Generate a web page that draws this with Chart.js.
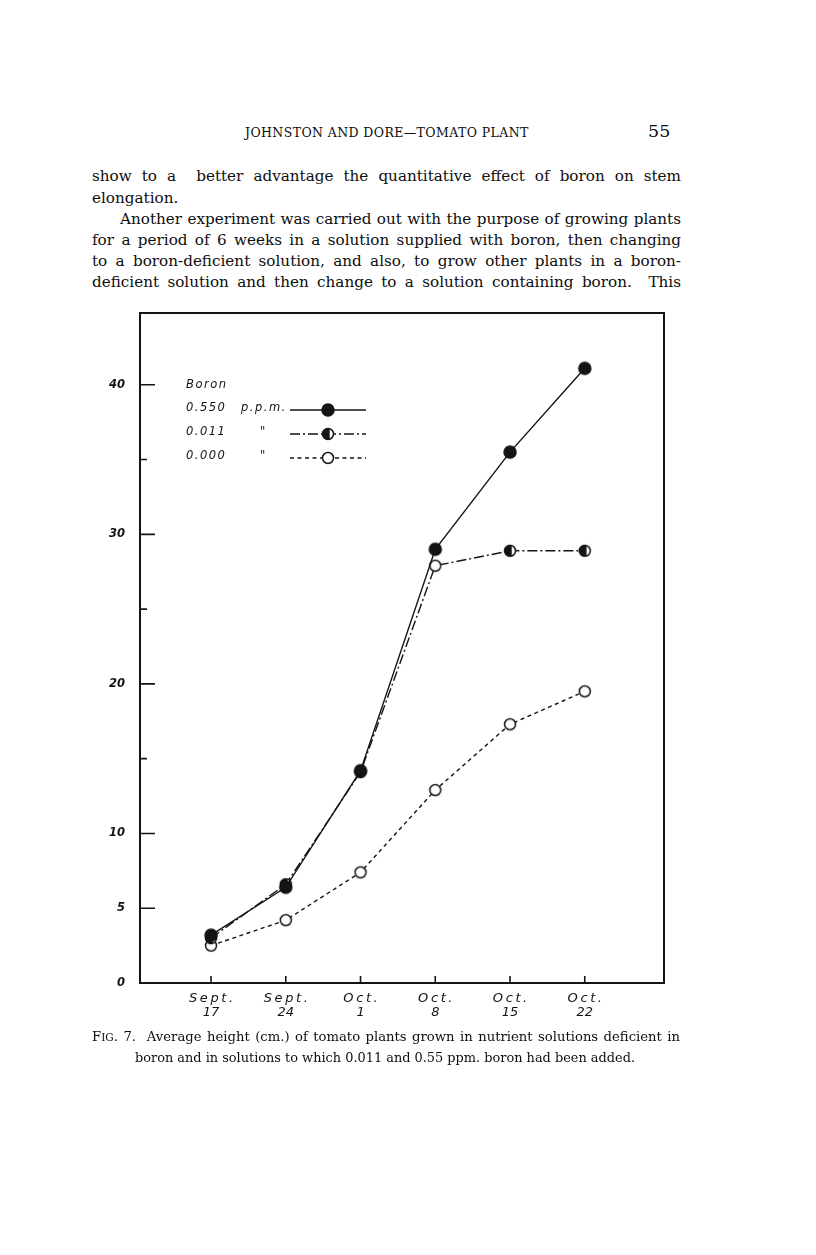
<!DOCTYPE html>
<html>
<head>
<meta charset="utf-8">
<script src="https://cdn.jsdelivr.net/npm/chart.js@4.4.1/dist/chart.umd.min.js"></script>
<style>
  body { margin: 0; background: #fff; width: 816px; height: 1255px; position: relative; overflow: hidden;
         font-family: "DejaVu Serif", serif; color: #0d0d0d; }
  .t { position: absolute; white-space: nowrap; }
  .j { position: absolute; text-align: justify; text-align-last: justify; font-size: 15.2px; line-height: 21px; white-space: nowrap; }
  .sc { font-size: 0.8em; }
  #wrap { position: absolute; left: 60px; top: 300px; width: 640px; height: 740px; }
</style>
</head>
<body>
<div class="t" style="left:245px;top:125px;font-size:12.5px;letter-spacing:0.4px">JOHNSTON AND DORE—TOMATO PLANT</div>
<div class="t" style="left:648px;top:121px;font-size:17.5px">55</div>

<div class="j" data-w="589" style="left:92px;top:166px;width:589px">show to a &nbsp;better advantage the quantitative effect of boron on stem</div>
<div class="t" style="left:92px;top:188px;font-size:15.2px;line-height:21px">elongation.</div>
<div class="j" data-w="561" style="left:120px;top:209px;width:561px">Another experiment was carried out with the purpose of growing plants</div>
<div class="j" data-w="589" style="left:92px;top:230px;width:589px">for a period of 6 weeks in a solution supplied with boron, then changing</div>
<div class="j" data-w="589" style="left:92px;top:251px;width:589px">to a boron-deficient solution, and also, to grow other plants in a boron-</div>
<div class="j" data-w="589" style="left:92px;top:272px;width:589px">deficient solution and then change to a solution containing boron. &nbsp;This</div>

<div id="wrap"><canvas id="chart" width="640" height="740"></canvas></div>

<div class="j" data-w="588" style="left:92px;top:1026px;width:588px;font-size:13.2px">F<span class="sc">IG</span>. 7. &nbsp;Average height (cm.) of tomato plants grown in nutrient solutions deficient in</div>
<div class="t" style="left:135px;top:1047px;font-size:12.9px;line-height:21px">boron and in solutions to which 0.011 and 0.55 ppm. boron had been added.</div>

<script>
// shrink any justified line whose natural width is too wide
document.querySelectorAll('.j').forEach(function (el) {
  var w = +el.dataset.w;
  var probe = document.createElement('span');
  probe.style.cssText = 'position:absolute;visibility:hidden;white-space:nowrap;font-size:' + getComputedStyle(el).fontSize;
  probe.innerHTML = el.innerHTML;
  document.body.appendChild(probe);
  if (probe.offsetWidth > w) {
    el.style.letterSpacing = ((w - probe.offsetWidth) / el.textContent.length - 0.05) + 'px';
  }
  probe.remove();
});

var dates = [['Sept.', '17'], ['Sept.', '24'], ['Oct.', '1'], ['Oct.', '8'], ['Oct.', '15'], ['Oct.', '22']];
var boron550 = [3.2, 6.4, 14.2, 29.0, 35.5, 41.1];
var boron011 = [3.0, 6.6, 14.1, 27.9, 28.9, 28.9];
var boron000 = [2.5, 4.2, 7.4, 12.9, 17.3, 19.5];
var yTicks = [0, 5, 10, 15, 20, 25, 30, 35, 40];
var yLabels = [0, 5, 10, 20, 30, 40];
var legendTitle = 'Boron';
var legendNames = ['0.550', '0.011', '0.000'];
var legendUnits = ['p.p.m.', '"', '"'];

var ink = '#141414';

// marker images
function marker(kind, r) {
  var s = 18, c = document.createElement('canvas');
  c.width = s; c.height = s;
  var g = c.getContext('2d');
  g.lineWidth = 1.5;
  g.strokeStyle = ink;
  g.beginPath();
  g.arc(s / 2, s / 2, r, 0, Math.PI * 2);
  g.fillStyle = kind === 'full' ? ink : '#fff';
  g.fill();
  g.stroke();
  if (kind === 'half') {
    g.beginPath();
    g.arc(s / 2, s / 2, r, Math.PI * 0.4, Math.PI * 1.6);
    g.closePath();
    g.fillStyle = ink;
    g.fill();
  }
  return c;
}
var fullDot = marker('full', 6);
var halfDot = marker('half', 5.5);
var openDot = marker('open', 5.5);

var dashes = [[], [10, 3, 2, 3], [4, 3.5]];
var dots = [fullDot, halfDot, openDot];

function pts(arr) { return arr.map(function (v, i) { return { x: i, y: v }; }); }
function spaced(s) { return s.split('').join('\u2009'); }

var framePlugin = {
  id: 'frame',
  beforeDatasetsDraw: function (chart) {
    var ctx = chart.ctx, a = chart.chartArea;
    var x = chart.scales.x, y = chart.scales.y;
    ctx.save();
    ctx.strokeStyle = ink;
    ctx.lineWidth = 2;
    ctx.strokeRect(a.left, a.top, a.right - a.left, a.bottom - a.top);
    ctx.lineWidth = 1.6;
    ctx.beginPath();
    yTicks.forEach(function (v) {
      var py = y.getPixelForValue(v);
      ctx.moveTo(a.left, py);
      ctx.lineTo(a.left + (yLabels.indexOf(v) >= 0 ? 15 : 7), py);
    });
    dates.forEach(function (d, i) {
      var px = x.getPixelForValue(i);
      ctx.moveTo(px, a.bottom + 1);
      ctx.lineTo(px, a.bottom - 7);
    });
    ctx.stroke();
    ctx.restore();
  },
  afterDraw: function (chart) {
    var ctx = chart.ctx, a = chart.chartArea;
    var lx = a.left + 46, ty = a.top + 72;
    ctx.save();
    ctx.fillStyle = ink;
    ctx.strokeStyle = ink;
    ctx.font = 'italic 11.5px "DejaVu Sans"';
    ctx.letterSpacing = '1.5px';
    ctx.textBaseline = 'middle';
    ctx.fillText(legendTitle, lx, ty);
    var rows = [ty + 23, ty + 47, ty + 71];
    legendNames.forEach(function (n, i) {
      ctx.fillText(n, lx, rows[i]);
      ctx.fillText(legendUnits[i], lx + (i === 0 ? 55 : 74), rows[i]);
      ctx.beginPath();
      ctx.setLineDash(dashes[i]);
      ctx.lineWidth = 1.4;
      ctx.moveTo(lx + 104, rows[i] + 2);
      ctx.lineTo(lx + 180, rows[i] + 2);
      ctx.stroke();
      ctx.setLineDash([]);
      ctx.drawImage(dots[i], lx + 142 - 9, rows[i] + 2 - 9);
    });
    ctx.restore();
  }
};

new Chart(document.getElementById('chart'), {
  type: 'line',
  data: {
    datasets: [
      { data: pts(boron550), borderColor: ink, borderWidth: 1.4, pointStyle: fullDot, borderDash: dashes[0] },
      { data: pts(boron011), borderColor: ink, borderWidth: 1.4, borderDash: dashes[1],
        pointStyle: [halfDot, halfDot, halfDot, openDot, halfDot, halfDot] },
      { data: pts(boron000), borderColor: ink, borderWidth: 1.4, pointStyle: openDot, borderDash: dashes[2] }
    ]
  },
  options: {
    responsive: false,
    animation: false,
    devicePixelRatio: 1,
    layout: { padding: { left: 0, top: 13, right: 36, bottom: 0 } },
    plugins: { legend: { display: false }, tooltip: { enabled: false } },
    elements: { line: { tension: 0, fill: false } },
    scales: {
      x: {
        type: 'linear', min: -0.95, max: 6.06,
        afterBuildTicks: function (s) { s.ticks = dates.map(function (d, i) { return { value: i }; }); },
        afterFit: function (s) { s.height = 57; s.paddingLeft = 0; s.paddingRight = 0; },
        grid: { display: false, drawTicks: false },
        border: { display: false },
        ticks: { callback: function (v) { return [spaced(dates[v][0]), dates[v][1]]; }, maxRotation: 0, autoSkip: false,
                 padding: 8, color: ink, font: { family: 'DejaVu Sans', style: 'italic', size: 13, lineHeight: 1.1 } }
      },
      y: {
        min: 0, max: 44.8,
        afterBuildTicks: function (s) { s.ticks = yTicks.map(function (v) { return { value: v }; }); },
        afterFit: function (s) { s.width = 80; s.paddingTop = 0; s.paddingBottom = 0; },
        grid: { display: false, drawTicks: false },
        border: { display: false },
        ticks: { callback: function (v) { return yLabels.indexOf(v) >= 0 ? String(v) : ''; },
                 padding: 15, color: ink, font: { family: 'DejaVu Sans', style: 'italic', weight: 'bold', size: 11.5 } }
      }
    }
  },
  plugins: [framePlugin]
});
</script>
</body>
</html>
